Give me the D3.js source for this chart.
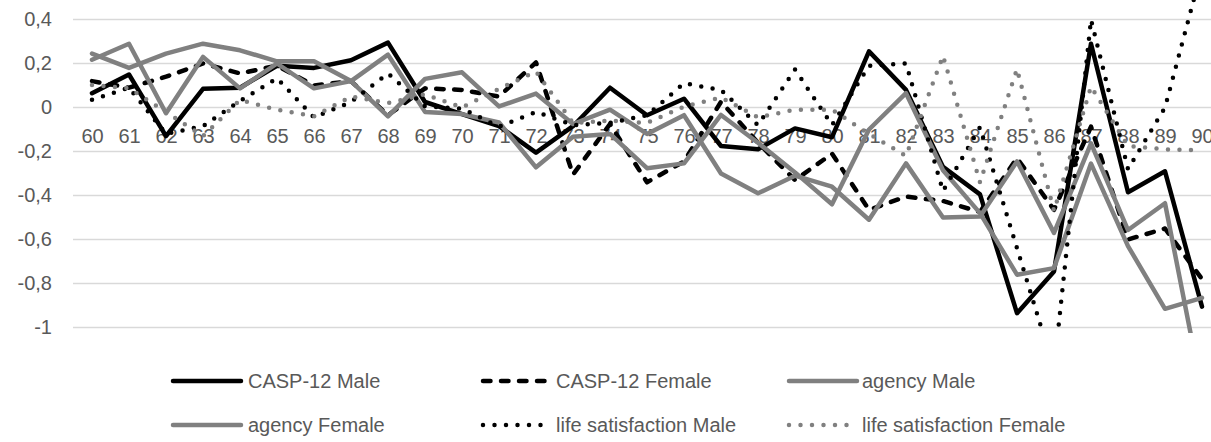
<!DOCTYPE html>
<html>
<head>
<meta charset="utf-8">
<script src="https://cdnjs.cloudflare.com/ajax/libs/d3/7.8.5/d3.min.js"></script>
<style>
  body { margin: 0; background: #fff; }
  text { font-family: "Liberation Sans Narrow", "Arial Narrow", "Liberation Sans", sans-serif; fill: #595959; }
</style>
</head>
<body>
<div id="playground"></div>
<script>
// categories (age) and y ticks
var ages = [60,61,62,63,64,65,66,67,68,69,70,71,72,73,74,75,76,77,78,79,80,81,82,83,84,85,86,87,88,89,90];
var yTicks = [0.4, 0.2, 0, -0.2, -0.4, -0.6, -0.8, -1];

// series values
var caspMale = [0.065, 0.15, -0.13, 0.085, 0.09, 0.19, 0.18, 0.215, 0.295, 0.025, -0.03, -0.085, -0.205, -0.085, 0.09, -0.035, 0.04, -0.175, -0.19, -0.095, -0.135, 0.255, 0.08, -0.27, -0.395, -0.935, -0.745, 0.29, -0.385, -0.29, -0.905];
var caspFemale = [0.12, 0.09, 0.14, 0.2, 0.155, 0.19, 0.1, 0.12, -0.035, 0.087, 0.08, 0.05, 0.205, -0.305, -0.075, -0.34, -0.245, 0.026, -0.16, -0.33, -0.21, -0.465, -0.405, -0.425, -0.475, -0.23, -0.465, -0.087, -0.6, -0.55, -0.78];
var agencyMale = [0.245, 0.18, 0.245, 0.29, 0.26, 0.21, 0.21, 0.12, -0.04, 0.13, 0.16, 0.005, 0.063, -0.075, -0.01, -0.12, -0.035, -0.3, -0.39, -0.31, -0.36, -0.51, -0.254, -0.5, -0.496, -0.245, -0.57, -0.163, -0.557, -0.435, -1.29];
var agencyFemale = [0.217, 0.29, -0.026, 0.23, 0.087, 0.2, 0.087, 0.12, 0.24, -0.02, -0.03, -0.068, -0.272, -0.133, -0.12, -0.276, -0.254, -0.034, -0.16, -0.295, -0.44, -0.1, 0.065, -0.285, -0.48, -0.76, -0.73, -0.255, -0.63, -0.915, -0.865];
var lifeMale = [0.035, 0.09, -0.12, -0.085, 0.03, 0.133, -0.045, 0.025, 0.155, 0.005, -0.005, -0.087, -0.02, -0.08, -0.07, -0.035, 0.11, 0.08, -0.08, 0.173, -0.08, 0.19, 0.2, -0.38, -0.09, -0.64, -1.19, 0.4, -0.28, 0, 0.63];
var lifeFemale = [0.102, 0.087, -0.02, -0.13, 0.034, -0.01, -0.04, 0.05, 0.02, 0.06, 0, 0.085, 0.163, -0.07, -0.06, -0.07, 0.004, 0.046, -0.045, -0.01, -0.01, -0.12, -0.22, 0.235, -0.34, 0.175, -0.47, 0.095, -0.175, -0.19, -0.195];

var seriesNames = ["CASP-12 Male", "CASP-12 Female", "agency Male", "agency Female", "life satisfaction Male", "life satisfaction Female"];
var seriesValues = [caspMale, caspFemale, agencyMale, agencyFemale, lifeMale, lifeFemale];

var W = 1211, H = 442;
var black = "#000000", grey = "#808080";
// stroke style per series
var styles = [
  {color: black, dash: null},
  {color: black, dash: "7.5,10.5"},
  {color: grey, dash: null},
  {color: grey, dash: null},
  {color: black, dash: "0,11.5"},
  {color: grey, dash: "0,11.5"}
];

var svg = d3.select("#playground")
  .append("svg")
  .attr("width", W)
  .attr("height", H);

var x = d3.scalePoint()
  .domain(ages)
  .range([92, 1202]);

var y = d3.scaleLinear()
  .domain([-1, 0.4])
  .range([327.5, 19.5]);

var fmt = function(d) { return String(+d.toFixed(1)).replace(".", ","); };

// horizontal grid
svg.append("g")
  .selectAll("line")
  .data(yTicks)
  .enter()
  .append("line")
    .attr("x1", 73)
    .attr("x2", W)
    .attr("y1", d => y(d))
    .attr("y2", d => y(d))
    .attr("stroke", "#d9d9d9")
    .attr("stroke-width", 1.5);

// y labels
var yAxis = svg.append("g")
  .attr("transform", "translate(59,0)")
  .call(d3.axisLeft(y).tickValues(yTicks).tickFormat(fmt).tickSize(0).tickPadding(7));
yAxis.select(".domain").remove();
yAxis.selectAll("text")
  .style("font-size", "20px")
  .attr("fill", "#595959");

// x labels sit under the zero line
var xAxis = svg.append("g")
  .attr("transform", "translate(0," + y(0) + ")")
  .call(d3.axisBottom(x).tickSize(0).tickPadding(21));
xAxis.select(".domain").remove();
xAxis.selectAll("text")
  .style("font-size", "20px")
  .attr("fill", "#595959");

// clip lines a bit below -1, like the original
svg.append("clipPath")
  .attr("id", "plotclip")
  .append("rect")
    .attr("x", 0)
    .attr("y", -20)
    .attr("width", W)
    .attr("height", 353);

var line = d3.line()
  .x((d, i) => x(ages[i]))
  .y(d => y(d));

var plot = svg.append("g").attr("clip-path", "url(#plotclip)");

seriesValues.forEach(function(vals, k) {
  var st = styles[k];
  plot.append("path")
    .datum(vals)
    .attr("d", line)
    .attr("fill", "none")
    .attr("stroke", st.color)
    .attr("stroke-width", 4.5)
    .attr("stroke-linejoin", "round")
    .attr("stroke-linecap", "round")
    .attr("stroke-dasharray", st.dash);
});

// legend, 3 columns x 2 rows
var legX = [171, 481, 787];
var legTextX = [248, 556, 862];
var legY = [381, 425];

var legend = svg.append("g");
seriesNames.forEach(function(name, k) {
  var col = k % 3, row = Math.floor(k / 3);
  var st = styles[k];
  legend.append("line")
    .attr("x1", legX[col] + 2)
    .attr("x2", legX[col] + 70)
    .attr("y1", legY[row])
    .attr("y2", legY[row])
    .attr("stroke", st.color)
    .attr("stroke-width", 4.5)
    .attr("stroke-linecap", "round")
    .attr("stroke-dasharray", st.dash);
  legend.append("text")
    .attr("x", legTextX[col])
    .attr("y", legY[row])
    .attr("dy", "0.35em")
    .style("font-size", "20px")
    .text(name);
});
</script>
</body>
</html>
